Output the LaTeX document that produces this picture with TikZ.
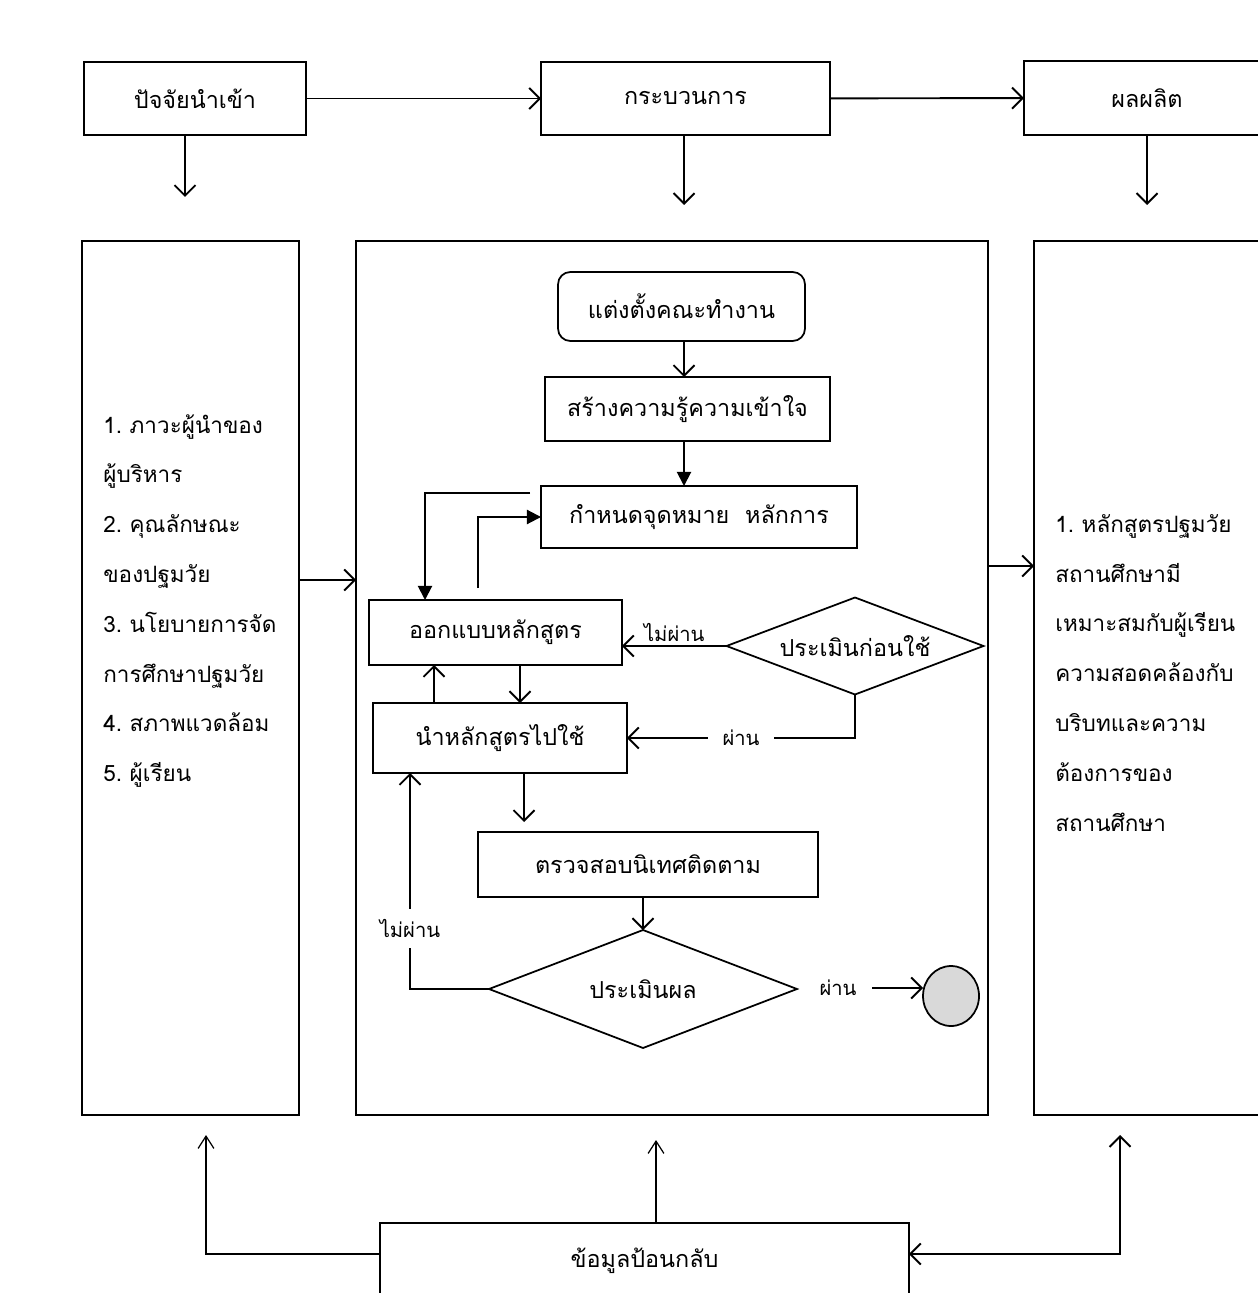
\documentclass[tikz,border=0pt]{standalone}
\usepackage{fontspec}
\setmainfont[Script=Thai]{Loma}
\usetikzlibrary{arrows.meta,shapes.geometric}

\definecolor{grisfin}{RGB}{217,217,217}

\begin{document}
\begin{tikzpicture}[x=0.02cm,y=-0.02cm,
        caja/.style={draw, line width=1pt, inner sep=0pt, outer sep=0pt, font=\fontsize{13.3pt}{16pt}\selectfont},
        rombo/.style={caja, diamond, aspect=2.6},
        lista/.style={align=left, inner sep=0pt, anchor=north west, font=\fontsize{12.8pt}{28.35pt}\selectfont},
        rotulo/.style={inner sep=2pt, font=\fontsize{11.5pt}{13pt}\selectfont},
        flecha/.style={line width=1.1pt, -{Straight Barb[length=6pt,width=12pt]}},
        flechar/.style={line width=1.1pt, -{Triangle[length=8pt,width=8pt]}},
        fina/.style={line width=0.7pt, -{Straight Barb[length=7pt,width=9pt]}}]
        \useasboundingbox (0,0) rectangle (1257,1293);

        %Fila superior: entrada, proceso y salida
        \node[caja, minimum width=4.44cm, minimum height=1.46cm] (ent) at (195,98.5) {ปัจจัยนำเข้า};
        \node[caja, minimum width=5.78cm, minimum height=1.46cm] (proc) at (685.5,98.5) {กระบวนการ};
        \node[caja, minimum width=4.92cm, minimum height=1.48cm] (sal) at (1147,98) {ผลผลิต};

        \draw[flecha] (ent) -- (proc);
        \draw[flecha] (proc) -- (sal);

        \coordinate (b1) at (185,197);
        \coordinate (b2) at (684,205);
        \coordinate (b3) at (1147,205);
        \draw[flecha] (ent.south -| b1) -- (b1);
        \draw[flecha] (proc.south -| b2) -- (b2);
        \draw[flecha] (sal.south -| b3) -- (b3);

        %Cajas grandes
        \node[caja, line width=0.9pt, minimum width=4.34cm, minimum height=17.48cm] (izq) at (190.5,678) {};
        \node[caja, line width=0.9pt, minimum width=12.64cm, minimum height=17.48cm] (cen) at (672,678) {};
        \node[caja, line width=0.9pt, minimum width=4.72cm, minimum height=17.48cm] (der) at (1152,678) {};

        \node[lista] (txtizq) at (103,414) {1.~ภาวะผู้นำของ\\ผู้บริหาร\\2.~คุณลักษณะ\\ของปฐมวัย\\3.~นโยบายการจัด\\การศึกษาปฐมวัย\\4.~สภาพแวดล้อม\\5.~ผู้เรียน};
        \node[lista] (txtder) at (1055,514) {1.~หลักสูตรปฐมวัย\\สถานศึกษามี\\เหมาะสมกับผู้เรียน\\ความสอดคล้องกับ\\บริบทและความ\\ต้องการของ\\สถานศึกษา};

        \coordinate (m1) at (320,580);
        \coordinate (m2) at (1010,566);
        \draw[flecha] (izq.east |- m1) -- (cen.west |- m1);
        \draw[flecha] (cen.east |- m2) -- (der.west |- m2);

        %Diagrama de flujo del proceso
        \node[caja, rounded corners=7pt, minimum width=4.94cm, minimum height=1.38cm] (a) at (681.5,306.5) {แต่งตั้งคณะทำงาน};
        \node[caja, line width=0.8pt, minimum width=5.7cm, minimum height=1.28cm] (b) at (687.5,409) {สร้างความรู้ความเข้าใจ};
        \node[caja, line width=0.8pt, minimum width=6.32cm, minimum height=1.24cm] (c) at (699,517) {กำหนดจุดหมาย~~หลักการ};
        \node[caja, line width=0.8pt, minimum width=5.06cm, minimum height=1.3cm] (d) at (495.5,632.5) {ออกแบบหลักสูตร};
        \node[rombo, minimum width=5.14cm, minimum height=1.94cm] (e) at (855,646) {ประเมินก่อนใช้};
        \node[caja, line width=1.3pt, minimum width=5.08cm, minimum height=1.4cm] (f) at (500,738) {นำหลักสูตรไปใช้};
        \node[caja, line width=0.8pt, minimum width=6.8cm, minimum height=1.3cm] (g) at (648,864.5) {ตรวจสอบนิเทศติดตาม};
        \node[rombo, minimum width=6.16cm, minimum height=2.36cm] (h) at (643,989) {ประเมินผล};
        \node[caja, ellipse, fill=grisfin, minimum width=1.12cm, minimum height=1.2cm] (fin) at (951,996) {};

        \draw[flecha] (a.south -| b2) -- (b.north -| b2);
        \draw[flechar] (b.south -| b2) -- (c.north -| b2);

        %Vuelta entre diseño y objetivos
        \coordinate (l1) at (530,493);
        \coordinate (l2) at (425,600);
        \coordinate (l3) at (478,588);
        \draw[flechar] (l1) -| (l2);
        \draw[flechar] (l3) |- (c.west);

        \draw[flecha] (e.west) -- node[rotulo, above] {ไม่ผ่าน} (d.east |- e.west);
        \draw[flecha] (e.south) |- node[rotulo, pos=0.75, fill=white, inner xsep=8pt] {ผ่าน} (f.east);

        \coordinate (u1) at (434,0);
        \coordinate (u2) at (520,0);
        \draw[flecha] (f.north -| u1) -- (d.south -| u1);
        \draw[flecha] (d.south -| u2) -- (f.north -| u2);

        \coordinate (g1) at (524,822);
        \draw[flecha] (f.south -| g1) -- (g1);
        \draw[flecha] (g.south -| h.north) -- (h.north);

        \coordinate (v1) at (410,0);
        \draw[flecha] (h.west) -| node[rotulo, pos=0.64, fill=white, inner ysep=6pt] {ไม่ผ่าน} (f.south -| v1);

        \node[rotulo] (pasa) at (838,988) {ผ่าน};
        \draw[flecha] (pasa.east) ++(12,0) -- (fin.west |- pasa.east);

        %Retroalimentacion
        \node[caja, line width=0.8pt, minimum width=10.58cm, minimum height=1.54cm] (retro) at (644.5,1261.5) {\raisebox{4pt}{ข้อมูลป้อนกลับ}};

        \coordinate (r0) at (0,1254);
        \coordinate (r1) at (206,1135);
        \coordinate (r2) at (656,1140);
        \coordinate (r3) at (1120,1135);
        \draw[fina] (retro.west |- r0) -| (r1);
        \draw[fina] (retro.north -| r2) -- (r2);
        \draw[flecha, {Straight Barb[length=6pt,width=12pt]}-{Straight Barb[length=6pt,width=12pt]}] (r3) |- (retro.east |- r0);
    \end{tikzpicture}
\end{document}
